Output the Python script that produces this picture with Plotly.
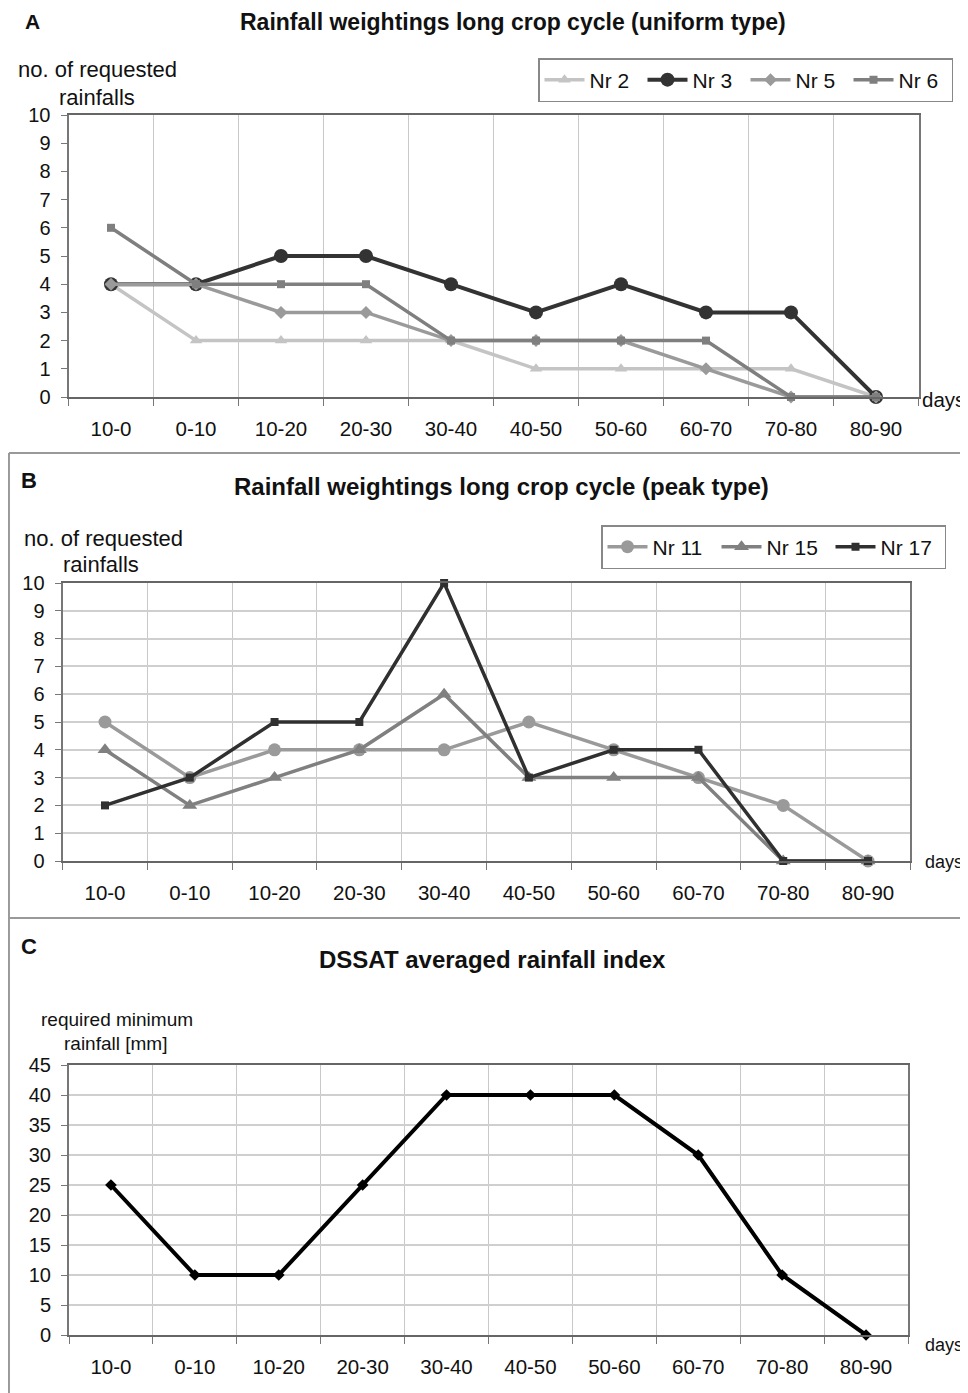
import plotly.graph_objects as go

# page body has an 8px margin; the figure is sized to fit the window exactly
OFF = 8
W, H = 968 - OFF, 1393 - OFF

categories = ["10-0", "0-10", "10-20", "20-30", "30-40", "40-50", "50-60", "60-70", "70-80", "80-90"]

# Panel A (uniform type)
nr2 = [4, 2, 2, 2, 2, 1, 1, 1, 1, 0]
nr3 = [4, 4, 5, 5, 4, 3, 4, 3, 3, 0]
nr5 = [4, 4, 3, 3, 2, 2, 2, 1, 0, 0]
nr6 = [6, 4, 4, 4, 2, 2, 2, 2, 0, 0]

# Panel B (peak type)
nr11 = [5, 3, 4, 4, 4, 5, 4, 3, 2, 0]
nr15 = [4, 2, 3, 4, 6, 3, 3, 3, 0, 0]
nr17 = [2, 3, 5, 5, 10, 3, 4, 4, 0, 0]

# Panel C (DSSAT)
dssat = [25, 10, 10, 25, 40, 40, 40, 30, 10, 0]


def px(x):
    return (x - OFF) / W


def py(y):
    return 1 - (y - OFF) / H


FONT = "Liberation Sans, Arial, sans-serif"

fig = go.Figure()


def add(y, name, color, symbol, size, width, xa, ya, legend, showlegend=True):
    fig.add_trace(go.Scatter(
        x=categories, y=y, name=name, mode="lines+markers",
        line=dict(color=color, width=width),
        marker=dict(symbol=symbol, size=size, color=color),
        xaxis=xa, yaxis=ya, legend=legend, showlegend=showlegend,
        cliponaxis=False,
    ))


# A
add(nr2, "Nr 2", "#c4c4c4", "triangle-up", 11, 3.5, "x", "y", "legend")
add(nr3, "Nr 3", "#333333", "circle", 14, 4, "x", "y", "legend")
add(nr5, "Nr 5", "#9a9a9a", "diamond", 10, 3.5, "x", "y", "legend")
add(nr6, "Nr 6", "#7f7f7f", "square", 8, 3.5, "x", "y", "legend")

# B
add(nr11, "Nr 11", "#9a9a9a", "circle", 13, 3.5, "x2", "y2", "legend2")
add(nr15, "Nr 15", "#808080", "triangle-up", 13, 3.5, "x2", "y2", "legend2")
add(nr17, "Nr 17", "#303030", "square", 8, 3.5, "x2", "y2", "legend2")

# C
add(dssat, "DSSAT", "#000000", "diamond", 9, 4, "x3", "y3", "legend", showlegend=False)


def xaxis(domain, anchor):
    return dict(
        domain=domain, anchor=anchor, type="category", range=[-0.5, 9.5],
        tickson="boundaries", ticks="outside", ticklen=7, tickcolor="#777",
        ticklabelstandoff=12,
        showgrid=True, gridcolor="#c8c8c8", gridwidth=1,
        showline=True, linecolor="#666", linewidth=2, mirror=True,
        tickfont=dict(family=FONT, size=20.5, color="#111"),
        zeroline=False, fixedrange=True, automargin=False,
    )


def yaxis(domain, anchor, rng, dtick, grid):
    return dict(
        domain=domain, anchor=anchor, range=rng, dtick=dtick,
        ticks="outside", ticklen=6, tickcolor="#777",
        ticklabelstandoff=6,
        showgrid=grid, gridcolor="#cfcfcf", gridwidth=1.5,
        showline=True, linecolor="#777", linewidth=2, mirror=True,
        tickfont=dict(family=FONT, size=20, color="#111"),
        zeroline=False, fixedrange=True, automargin=False,
    )


legend_common = dict(
    orientation="h", xanchor="left", yanchor="top",
    bordercolor="#888", borderwidth=1.5, bgcolor="white",
    font=dict(family=FONT, size=21, color="#111"),
    tracegroupgap=0, entrywidthmode="pixels", itemwidth=40,
)

fig.update_layout(
    width=W, height=H,
    margin=dict(l=0, r=0, t=0, b=0),
    paper_bgcolor="white", plot_bgcolor="white",
    font=dict(family=FONT, color="#111"),
    xaxis=xaxis([px(68.5), px(918.5)], "y"),
    yaxis=yaxis([py(397), py(115)], "x", [0, 10], 1, False),
    xaxis2=xaxis([px(62.6), px(910.4)], "y2"),
    yaxis2=yaxis([py(861), py(583)], "x2", [0, 10], 1, True),
    xaxis3=xaxis([px(69), px(908)], "y3"),
    yaxis3=yaxis([py(1335), py(1065)], "x3", [0, 45], 5, True),
    legend=dict(legend_common, x=px(538), y=py(58), entrywidth=48),
    legend2=dict(legend_common, x=px(601), y=py(525), entrywidth=59),
)

ann = []


def text(x, y, s, size, bold=False, xanchor="left"):
    ann.append(dict(
        x=px(x), y=py(y), xref="paper", yref="paper", text=(f"<b>{s}</b>" if bold else s),
        showarrow=False, xanchor=xanchor, yanchor="middle",
        font=dict(family=FONT, size=size, color="#111"),
    ))


# Panel letters and titles
text(23, 21, "A", 21, True)
text(513, 22, "Rainfall weightings long crop cycle (uniform type)", 23, True, "center")
text(19, 481, "B", 22, True)
text(501, 486, "Rainfall weightings long crop cycle (peak type)", 24, True, "center")
text(19, 946, "C", 22, True)
text(492, 959, "DSSAT averaged rainfall index", 24, True, "center")

# Axis titles
text(16, 70, "no. of requested", 22)
text(57, 97, "rainfalls", 22)
text(22, 538, "no. of requested", 22)
text(61, 565, "rainfalls", 22)
text(39, 1019, "required minimum", 19)
text(62, 1043, "rainfall [mm]", 19)

text(920, 399, "days", 20.5)
text(923, 862, "days", 18)
text(923, 1345, "days", 18)

fig.update_layout(annotations=ann)

# Panel frame lines
shapes = [
    dict(type="line", xref="paper", yref="paper", x0=0.001, x1=1, y0=py(453), y1=py(453),
         line=dict(color="#999", width=2)),
    dict(type="line", xref="paper", yref="paper", x0=0.001, x1=1, y0=py(918), y1=py(918),
         line=dict(color="#999", width=2)),
    dict(type="line", xref="paper", yref="paper", x0=0.001, x1=0.001, y0=py(453), y1=0,
         line=dict(color="#999", width=2)),
]
fig.update_layout(shapes=shapes)

fig.write_html("out.html")
